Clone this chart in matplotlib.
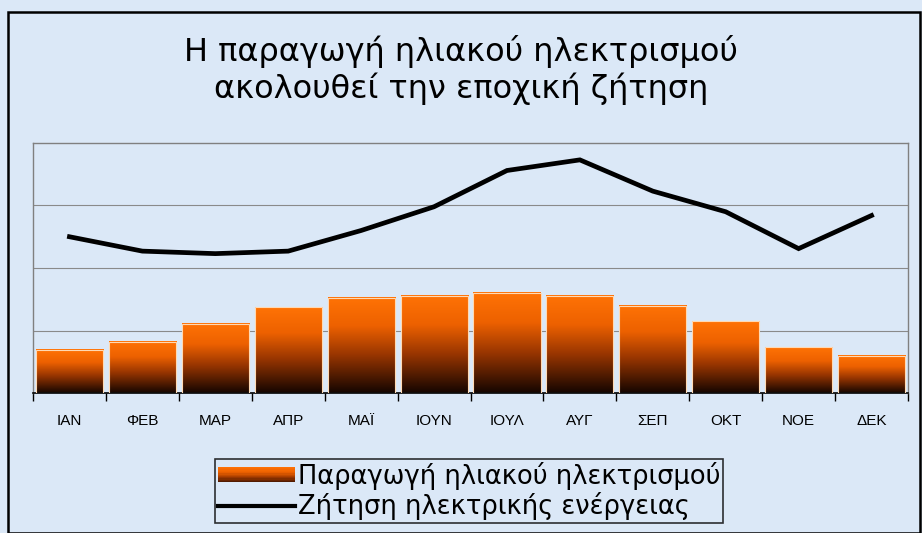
import matplotlib
matplotlib.use("Agg")
import matplotlib.pyplot as plt
import numpy as np
from matplotlib.colors import LinearSegmentedColormap
from matplotlib.patches import Rectangle
from matplotlib.lines import Line2D
from matplotlib.legend_handler import HandlerBase

months = ["ΙΑΝ", "ΦΕΒ", "ΜΑΡ", "ΑΠΡ", "ΜΑΪ", "ΙΟΥΝ", "ΙΟΥΛ", "ΑΥΓ", "ΣΕΠ", "ΟΚΤ", "ΝΟΕ", "ΔΕΚ"]
solar = [0.69, 0.82, 1.11, 1.37, 1.52, 1.56, 1.60, 1.56, 1.40, 1.15, 0.73, 0.60]
demand = [2.50, 2.27, 2.23, 2.27, 2.60, 2.98, 3.56, 3.73, 3.23, 2.90, 2.31, 2.84]
title = "Η παραγωγή ηλιακού ηλεκτρισμού\nακολουθεί την εποχική ζήτηση"
label_solar = "Παραγωγή ηλιακού ηλεκτρισμού"
label_demand = "Ζήτηση ηλεκτρικής ενέργειας"

plt.rcParams['font.family'] = ['DejaVu Sans']

bg = (0.86, 0.91, 0.97)
cmap = LinearSegmentedColormap.from_list(
    "sun", [(0.0, (0.08, 0.02, 0.0)), (0.4, (0.60, 0.21, 0.0)),
            (0.7, (0.93, 0.38, 0.0)), (1.0, (1.0, 0.45, 0.02))])

fig = plt.figure(figsize=(9.22, 5.33), dpi=100)
fig.patch.set_facecolor(bg)
fig.patches.append(Rectangle((8 / 922, 0.0), 912 / 922, 1 - 12 / 533,
                             transform=fig.transFigure, fill=False,
                             edgecolor='black', linewidth=1.8, zorder=0))

ax = fig.add_axes([33 / 922, 1 - 393 / 533, 875 / 922, 250 / 533])
ax.set_facecolor('none')
x = np.arange(len(months))
w = 0.92
grad = np.linspace(0, 1, 256).reshape(-1, 1)
for xi, h in zip(x, solar):
    ax.imshow(grad, cmap=cmap, origin='lower', aspect='auto',
              extent=[xi - w / 2, xi + w / 2, 0, h], zorder=2, interpolation='bilinear')
    ax.add_patch(Rectangle((xi - w / 2, 0), w, h, fill=False,
                           edgecolor=(1.0, 0.85, 0.7), linewidth=0.8, zorder=3))
ax.plot(x, demand, color='black', linewidth=3.4, zorder=4, solid_joinstyle='miter')

ax.set_xlim(-0.5, 11.5)
ax.set_ylim(0, 4)
ax.set_yticks([1, 2, 3])
ax.yaxis.grid(True, color='#8a8a8a', linewidth=0.8)
ax.set_axisbelow(True)
ax.tick_params(axis='y', left=False, labelleft=False)
ax.set_xticks(x)
ax.set_xticklabels(months, fontsize=11, family='Liberation Sans')
ax.tick_params(axis='x', which='major', length=0, pad=15)
ax.set_xticks(np.arange(-0.5, 12, 1), minor=True)
ax.tick_params(axis='x', which='minor', length=6, width=1, color='black', direction='out')
for s in ['top', 'right', 'left']:
    ax.spines[s].set_color('#808080')
    ax.spines[s].set_linewidth(1.0)
ax.spines['bottom'].set_color('black')
ax.spines['bottom'].set_linewidth(1.2)

fig.text(0.5, 1 - 70 / 533, title, ha='center', va='center', fontsize=23,
         linespacing=1.2)


class GradHandler(HandlerBase):
    def create_artists(self, legend, orig_handle, xdescent, ydescent, width, height, fontsize, trans):
        arts = []
        n = 12
        for i in range(n):
            c = cmap(0.15 + 0.85 * (i + 0.5) / n)
            r = Rectangle((-xdescent, -ydescent + height * i / n), width, height / n + 0.2,
                          facecolor=c, edgecolor='none', transform=trans)
            arts.append(r)
        return arts


class GradProxy:
    pass


proxy_bar = GradProxy()
proxy_line = Line2D([], [], color='black', linewidth=3)
leg = fig.legend([proxy_bar, proxy_line], [label_solar, label_demand],
                 loc='center', bbox_to_anchor=(469 / 922, 1 - 491 / 533),
                 fontsize=18.5, frameon=True, fancybox=False, handlelength=3.0,
                 handleheight=0.55, handletextpad=0.1, borderpad=0.12,
                 labelspacing=0.1, borderaxespad=0,
                 handler_map={GradProxy: GradHandler()})
leg.get_frame().set_edgecolor('black')
leg.get_frame().set_facecolor('none')
leg.get_frame().set_linewidth(1.2)

fig.savefig("out.png", dpi=100, facecolor=fig.get_facecolor())
